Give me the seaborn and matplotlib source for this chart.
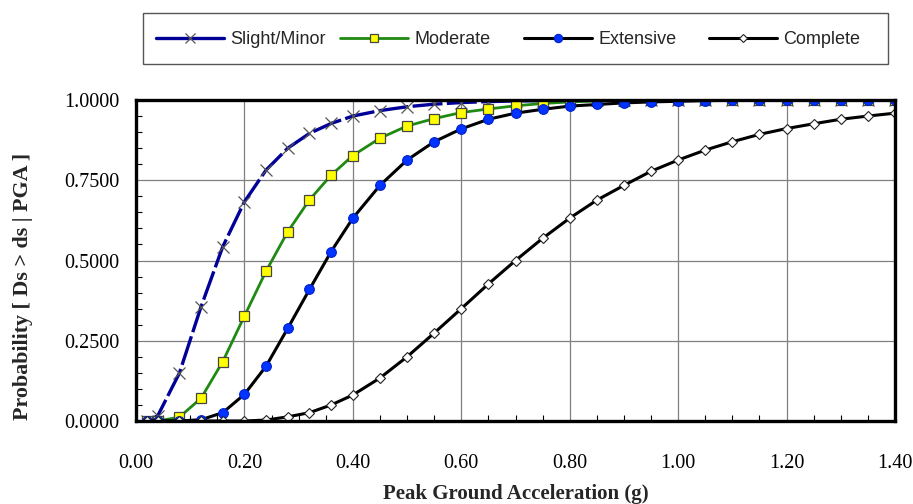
import numpy as np
import pandas as pd
import seaborn as sns
import matplotlib
matplotlib.use("Agg")
import matplotlib.pyplot as plt
from matplotlib.lines import Line2D
from matplotlib.patches import Rectangle
from matplotlib.ticker import MultipleLocator, FormatStrFormatter

# Peak ground acceleration (g)
pga = [0.02, 0.04, 0.08, 0.12, 0.16, 0.20, 0.24, 0.28, 0.32, 0.36, 0.40,
       0.45, 0.50, 0.55, 0.60, 0.65, 0.70, 0.75, 0.80, 0.85, 0.90, 0.95,
       1.00, 1.05, 1.10, 1.15, 1.20, 1.25, 1.30, 1.35, 1.40]

# Probability of reaching or exceeding each damage state
slight = [0.000, 0.016, 0.149, 0.356, 0.543, 0.683, 0.782, 0.850, 0.896, 0.927, 0.950,
          0.967, 0.979, 0.987, 0.992, 0.995, 0.997, 0.998, 0.999, 0.999, 1.000, 1.000,
          1.000, 1.000, 1.000, 1.000, 1.000, 1.000, 1.000, 1.000, 1.000]
moderate = [0.000, 0.000, 0.012, 0.071, 0.185, 0.327, 0.467, 0.590, 0.689, 0.766, 0.827,
            0.881, 0.919, 0.942, 0.961, 0.972, 0.982, 0.989, 0.994, 0.997, 0.998, 0.999,
            1.000, 1.000, 1.000, 1.000, 1.000, 1.000, 1.000, 1.000, 1.000]
extensive = [0.000, 0.000, 0.000, 0.004, 0.026, 0.083, 0.171, 0.289, 0.410, 0.528, 0.632,
             0.734, 0.813, 0.870, 0.910, 0.940, 0.959, 0.971, 0.981, 0.986, 0.991, 0.994,
             0.996, 0.998, 0.999, 0.999, 1.000, 1.000, 1.000, 1.000, 1.000]
complete = [0.000, 0.000, 0.000, 0.000, 0.000, 0.000, 0.003, 0.013, 0.026, 0.050, 0.081,
            0.134, 0.200, 0.274, 0.350, 0.427, 0.500, 0.569, 0.632, 0.688, 0.734, 0.778,
            0.813, 0.844, 0.870, 0.893, 0.911, 0.926, 0.940, 0.950, 0.959]

labels = ["Slight/Minor", "Moderate", "Extensive", "Complete"]
x_ticks = [0.0, 0.2, 0.4, 0.6, 0.8, 1.0, 1.2, 1.4]
y_ticks = [0.0, 0.25, 0.5, 0.75, 1.0]

df = pd.DataFrame({"pga": pga, labels[0]: slight, labels[1]: moderate,
                   labels[2]: extensive, labels[3]: complete})

sns.set_theme(style="white")
plt.rcParams["font.family"] = ["Liberation Serif", "DejaVu Serif"]

W, H = 913, 504
fig = plt.figure(figsize=(W / 100, H / 100), dpi=100)
ax = fig.add_axes([136 / W, 1 - 421 / H, (895 - 136) / W, (421 - 100) / H])

styles = {
    "Slight/Minor": dict(color="#000099", marker="x", markersize=8, markeredgecolor="#555555",
                         markeredgewidth=0.9, linewidth=2.4),
    "Moderate": dict(color="#1f8a12", marker="s", markersize=6.5, markerfacecolor="#ffff00",
                     markeredgecolor="#444444", markeredgewidth=0.9, linewidth=2.0),
    "Extensive": dict(color="black", marker="o", markersize=7, markerfacecolor="#0033ff",
                      markeredgecolor="#0022cc", markeredgewidth=0.8, linewidth=2.2),
    "Complete": dict(color="black", marker="D", markersize=5, markerfacecolor="white",
                     markeredgecolor="#222222", markeredgewidth=0.8, linewidth=2.2),
}

for name in labels:
    sns.lineplot(data=df, x="pga", y=name, ax=ax, legend=False, **styles[name])

# dashed navy line for the slight damage state
ax.get_lines()[0].set_dashes([9, 1.3])

ax.set_xlim(0, 1.4)
ax.set_ylim(0, 1.0)
ax.set_xticks(x_ticks)
ax.set_yticks(y_ticks)
ax.xaxis.set_minor_locator(MultipleLocator(0.05))
ax.yaxis.set_minor_locator(MultipleLocator(0.05))
ax.xaxis.set_major_formatter(FormatStrFormatter("%.2f"))
ax.yaxis.set_major_formatter(FormatStrFormatter("%.4f"))
ax.tick_params(axis="both", which="both", direction="in", labelsize=14.5, colors="black",
               bottom=True, left=True)
ax.tick_params(axis="both", which="minor", length=4, width=0.8)
ax.tick_params(axis="both", which="major", length=0)
ax.tick_params(axis="x", pad=24)
ax.tick_params(axis="y", pad=12)
ax.grid(True, which="major", color="#808080", linewidth=0.9)
for sp in ax.spines.values():
    sp.set_color("black")
    sp.set_linewidth(2.4)
    sp.set_visible(True)

ax.set_xlabel("Peak Ground Acceleration (g)", fontsize=15, fontweight="bold", labelpad=8)
ax.set_ylabel("Probability [ Ds > ds | PGA ]", fontsize=15.8, fontweight="bold")
ax.yaxis.set_label_coords(-0.136, 0.42)

# legend frame across the top of the figure
fig.patches.append(Rectangle((143 / W, 1 - 64 / H), (888 - 143) / W, 51 / H,
                             transform=fig.transFigure, facecolor="white",
                             edgecolor="#555555", linewidth=1.0))

# one legend entry per column, evenly spaced inside the frame
col_x = [152, 336, 520, 705]
for name, x0 in zip(labels, col_x):
    st = dict(styles[name])
    st["markersize"] = st["markersize"] * 0.85
    h = Line2D([], [], linestyle="-", **st)
    fig.legend([h], [name], loc="center left", bbox_to_anchor=(x0 / W, 1 - 40 / H),
               frameon=False, handlelength=3.8, handletextpad=0.35, numpoints=1,
               borderaxespad=0, borderpad=0.2,
               prop={"family": "Liberation Sans", "size": 13})

fig.savefig("out.png", dpi=100)
